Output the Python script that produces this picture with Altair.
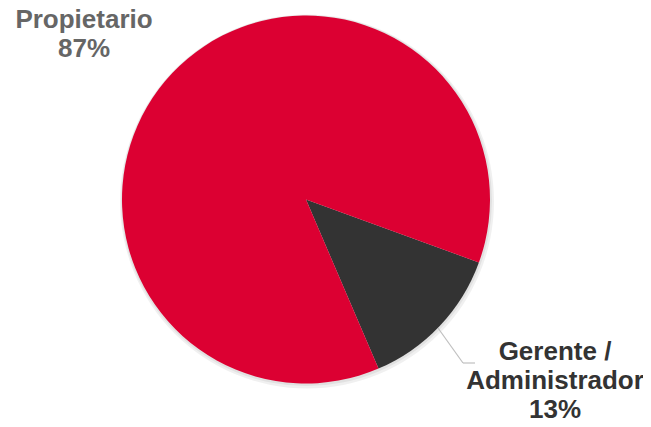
import altair as alt
import pandas as pd
import math

categories = ["Gerente / Administrador", "Propietario"]
label_lines = ["Gerente /\nAdministrador", "Propietario"]
values = [13, 87]
colors = ["#333333", "#DC0032"]
text_colors = ["#333333", "#666666"]

df = pd.DataFrame({
    "cat": categories,
    "val": values,
    "ord": [0, 1],
    "label": [f"{l}\n{v}%" for l, v in zip(label_lines, values)],
})

start = math.radians(110)
W, H = 635, 411
CX, CY, R = 298, 191.5, 184

theta = alt.Theta("val:Q", stack=True,
                  scale=alt.Scale(domain=[0, 100], range=[start, start + 2 * math.pi]))

shadow = alt.Chart(pd.DataFrame({"v": [1]})).mark_arc(
    radius=R + 3, color="#000000", opacity=0.06
).encode(theta=alt.value(2 * math.pi), x=alt.value(CX + 1), y=alt.value(CY + 2))

shadow2 = alt.Chart(pd.DataFrame({"v": [1]})).mark_arc(
    radius=R + 1.5, color="#000000", opacity=0.06
).encode(theta=alt.value(2 * math.pi), x=alt.value(CX + 0.5), y=alt.value(CY + 1))

pie = alt.Chart(df).mark_arc(radius=R).encode(
    theta=theta,
    order=alt.Order("ord:Q"),
    color=alt.Color("cat:N", scale=alt.Scale(domain=categories, range=colors), legend=None),
    x=alt.value(CX),
    y=alt.value(CY),
)

leader1 = alt.Chart(pd.DataFrame({"v": [1]})).mark_rule(color="#BFBFBF", strokeWidth=1.2).encode(
    x=alt.value(430), y=alt.value(320), x2=alt.value(455), y2=alt.value(355))
leader2 = alt.Chart(pd.DataFrame({"v": [1]})).mark_rule(color="#BFBFBF", strokeWidth=1.2).encode(
    x=alt.value(455), y=alt.value(355), x2=alt.value(467), y2=alt.value(355))

lab_g = alt.Chart(df[df["ord"] == 0]).mark_text(
    font="Liberation Sans", fontWeight="bold", fontSize=26, lineHeight=29,
    lineBreak="\n", align="center", baseline="alphabetic", color=text_colors[0]
).encode(text="label:N", x=alt.value(547), y=alt.value(352))

lab_p = alt.Chart(df[df["ord"] == 1]).mark_text(
    font="Liberation Sans", fontWeight="bold", fontSize=26, lineHeight=29,
    lineBreak="\n", align="center", baseline="alphabetic", color=text_colors[1]
).encode(text="label:N", x=alt.value(76), y=alt.value(20))

chart = alt.layer(shadow, shadow2, pie, leader1, leader2, lab_g, lab_p).properties(
    width=W, height=H, autosize=alt.AutoSizeParams(type="none"), padding=0,
    background="white"
).configure_view(stroke=None)

chart.save("out.html", embed_options={"renderer": "svg", "actions": False})
